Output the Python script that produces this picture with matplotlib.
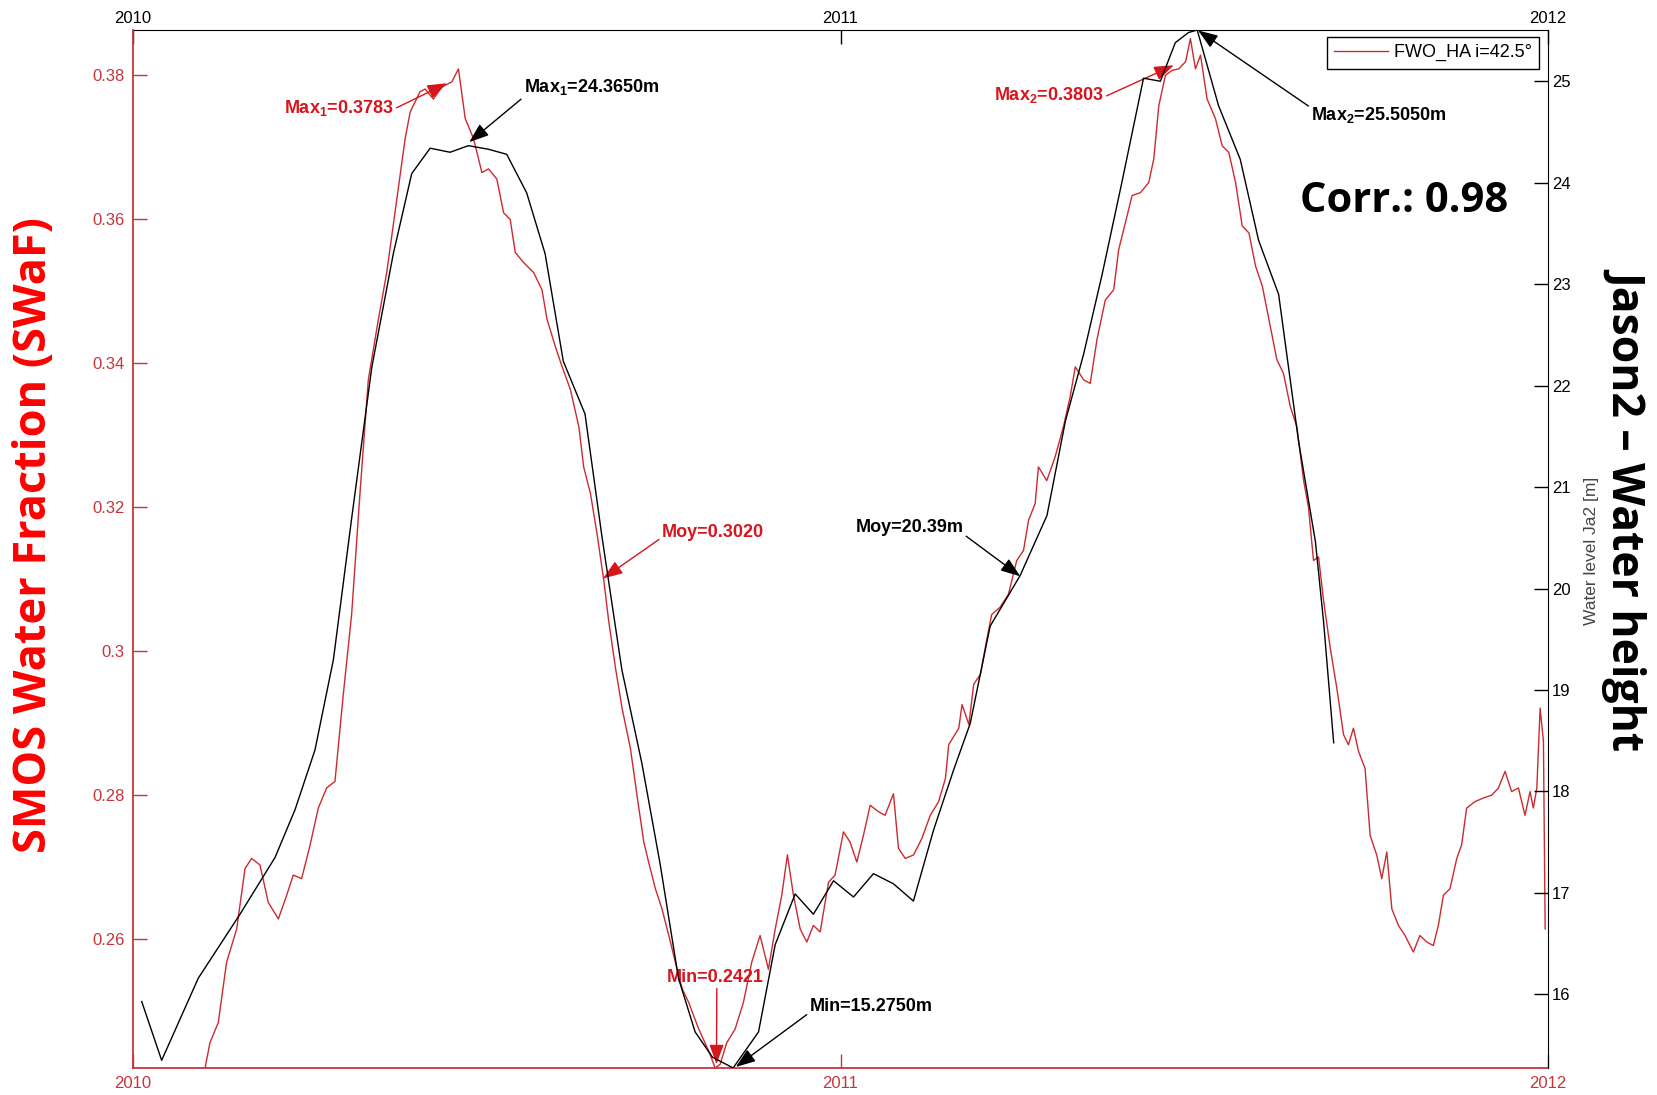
import numpy as np
import matplotlib
matplotlib.use('Agg')
import matplotlib.pyplot as plt
from matplotlib import font_manager as fm

# ---------------- data (days since 2010-01-01) ----------------
jason_day = [4.5, 14.8, 33.7, 55.2, 73.3, 83.6, 93.9, 103.4, 112.8, 123.2, 134.3, 143.8,
             153.3, 163.6, 173.0, 183.3, 192.8, 203.1, 212.6, 222.0, 233.2, 241.8, 252.2,
             262.5, 271.9, 281.4, 290.0, 299.0, 309.6, 322.7, 331.3, 341.6, 351.0, 361.4,
             371.7, 382.0, 392.3, 402.6, 413.0, 423.3, 431.9, 442.2, 457.7, 471.5, 481.0,
             490.4, 500.0, 510.1, 521.3, 530.0, 537.7, 544.5, 549.0, 560.0, 571.2, 580.7,
             591.0, 601.3, 610.0, 614.2, 619.4]
jason_height = [15.93, 15.35, 16.16, 16.79, 17.35, 17.82, 18.41, 19.30, 20.69, 22.18, 23.30,
                24.09, 24.34, 24.30, 24.365, 24.33, 24.28, 23.90, 23.30, 22.24, 21.72, 20.53,
                19.20, 18.28, 17.29, 16.16, 15.63, 15.38, 15.275, 15.63, 16.49, 16.99, 16.79,
                17.12, 16.96, 17.19, 17.09, 16.92, 17.62, 18.21, 18.67, 19.63, 20.13, 20.72,
                21.65, 22.31, 23.10, 24.00, 25.03, 25.00, 25.38, 25.48, 25.505, 24.76, 24.23,
                23.43, 22.90, 21.45, 20.46, 19.67, 18.48]

smos_day = [37.2, 39.7, 44.0, 48.3, 53.5, 57.8, 61.2, 65.5, 69.8, 75.0, 79.3, 82.7, 87.0,
            91.3, 95.6, 99.9, 104.2, 108.5, 112.8, 117.1, 121.4, 126.6, 130.9, 136.1, 140.4,
            143.0, 148.0, 150.7, 155.0, 159.3, 164.5, 167.9, 171.4, 175.7, 180.0, 183.4,
            187.7, 191.2, 194.6, 197.2, 201.5, 206.7, 211.0, 213.6, 217.9, 221.4, 225.7,
            230.0, 232.5, 236.0, 239.4, 242.9, 245.4, 248.9, 252.3, 256.6, 260.0, 263.5,
            266.0, 269.5, 272.9, 276.4, 279.8, 283.3, 286.7, 289.3, 291.9, 297.7, 300.3,
            302.9, 306.3, 310.6, 314.9, 319.2, 323.5, 327.8, 331.3, 334.7, 337.6, 340.7,
            344.2, 347.6, 351.0, 354.5, 358.8, 362.2, 366.5, 369.9, 373.4, 376.8, 380.3,
            384.6, 388.0, 392.3, 394.9, 398.4, 402.7, 407.0, 411.3, 415.6, 419.1, 420.8,
            426.0, 427.7, 431.2, 433.7, 437.2, 440.0, 443.0, 447.3, 451.6, 455.9, 459.4,
            462.0, 465.4, 467.1, 471.4, 475.7, 480.0, 483.5, 486.1, 490.4, 493.8, 497.3,
            501.6, 505.9, 508.5, 511.1, 515.4, 519.7, 524.0, 526.6, 529.2, 532.6, 536.1,
            539.5, 543.0, 545.5, 548.1, 550.7, 554.1, 558.4, 561.9, 565.3, 568.8, 572.2,
            575.7, 579.1, 582.6, 586.0, 590.1, 593.5, 597.0, 600.4, 603.9, 606.4, 609.0,
            611.6, 614.2, 617.6, 621.0, 624.5, 627.0, 629.6, 632.2, 635.6, 638.2, 641.6,
            644.2, 646.8, 649.4, 652.8, 656.2, 660.5, 663.9, 667.4, 670.8, 673.4, 676.0,
            679.4, 682.9, 685.4, 688.0, 692.3, 696.6, 700.9, 704.4, 707.8, 711.2, 714.7,
            718.1, 720.7, 722.4, 724.2, 725.9, 727.6, 728.5]
smos_val = [0.2421, 0.2456, 0.2484, 0.2568, 0.2614, 0.2698, 0.2712, 0.2703, 0.2651, 0.2628,
            0.2661, 0.2689, 0.2684, 0.2730, 0.2782, 0.2810, 0.2819, 0.2940, 0.3051, 0.3219,
            0.3377, 0.3461, 0.3526, 0.3628, 0.3712, 0.3749, 0.3777, 0.3781, 0.3767, 0.3784,
            0.3791, 0.3809, 0.3740, 0.3712, 0.3665, 0.3670, 0.3656, 0.3609, 0.3600, 0.3554,
            0.3540, 0.3526, 0.3502, 0.3461, 0.3423, 0.3395, 0.3363, 0.3312, 0.3256, 0.3219,
            0.3163, 0.3098, 0.3042, 0.2977, 0.2921, 0.2865, 0.2800, 0.2735, 0.2707, 0.2670,
            0.2642, 0.2605, 0.2568, 0.2531, 0.2512, 0.2493, 0.2475, 0.2440, 0.2421, 0.2426,
            0.2456, 0.2475, 0.2512, 0.2568, 0.2605, 0.2558, 0.2614, 0.2661, 0.2717, 0.2661,
            0.2614, 0.2596, 0.2619, 0.2610, 0.2679, 0.2689, 0.2749, 0.2735, 0.2707, 0.2744,
            0.2786, 0.2777, 0.2772, 0.2802, 0.2726, 0.2712, 0.2717, 0.2740, 0.2772, 0.2791,
            0.2823, 0.2870, 0.2893, 0.2926, 0.2898, 0.2954, 0.2968, 0.3010, 0.3051, 0.3061,
            0.3079, 0.3126, 0.3140, 0.3182, 0.3205, 0.3256, 0.3237, 0.3270, 0.3312, 0.3354,
            0.3395, 0.3377, 0.3372, 0.3433, 0.3488, 0.3502, 0.3558, 0.3586, 0.3633, 0.3637,
            0.3651, 0.3684, 0.3758, 0.3800, 0.3807, 0.3809, 0.3819, 0.3851, 0.3809, 0.3828,
            0.3767, 0.3740, 0.3702, 0.3693, 0.3651, 0.3591, 0.3581, 0.3535, 0.3507, 0.3461,
            0.3405, 0.3386, 0.3340, 0.3312, 0.3237, 0.3200, 0.3126, 0.3131, 0.3070, 0.3005,
            0.2949, 0.2884, 0.2870, 0.2893, 0.2861, 0.2837, 0.2744, 0.2717, 0.2684, 0.2721,
            0.2642, 0.2619, 0.2605, 0.2582, 0.2605, 0.2596, 0.2591, 0.2619, 0.2661, 0.2670,
            0.2712, 0.2731, 0.2782, 0.2791, 0.2796, 0.2800, 0.2810, 0.2833, 0.2805, 0.2810,
            0.2772, 0.2805, 0.2782, 0.2810, 0.2921, 0.2875, 0.2614]

year_pos = [0, 365, 730]
year_labels = ['2010', '2011', '2012']
left_ticks = [0.26, 0.28, 0.30, 0.32, 0.34, 0.36, 0.38]
left_ticklabels = ['0.26', '0.28', '0.3', '0.32', '0.34', '0.36', '0.38']
right_ticks = [16, 17, 18, 19, 20, 21, 22, 23, 24, 25]
legend_label = 'FWO_HA i=42.5°'

# ---------------- fonts ----------------
avail = {f.name for f in fm.fontManager.ttflist}
def pick(names):
    for n in names:
        if n in avail:
            return n
    return 'DejaVu Sans'
SANS = pick(['Liberation Sans', 'DejaVu Sans'])
BIG = pick(['Open Sans', 'Noto Sans', 'Lato', 'DejaVu Sans'])
plt.rcParams['font.family'] = [SANS, 'DejaVu Sans']
plt.rcParams['mathtext.default'] = 'regular'

RED_LINE = '#cc2a2e'
RED_AX = '#c8343c'
RED_TXT = '#d8141c'

fig = plt.figure(figsize=(16.58, 10.95), dpi=100)
ax = fig.add_axes([0.0802, 0.0247, 0.8535, 0.9479])
ax2 = ax.twinx()

l1, = ax.plot(smos_day, smos_val, color=RED_LINE, lw=1.0, label=legend_label)
ax2.plot(jason_day, jason_height, color='k', lw=1.0)

ax.set_xlim(0, 730)
ax.set_ylim(0.2421, 0.3863)
ax2.set_ylim(15.275, 25.505)

ax.set_xticks(year_pos)
ax.set_xticklabels(year_labels)
ax.set_yticks(left_ticks)
ax.set_yticklabels(left_ticklabels)
ax2.set_yticks(right_ticks)
ax2.set_yticklabels([str(t) for t in right_ticks])

ax.tick_params(axis='y', direction='in', length=10, width=1, colors=RED_AX,
               labelsize=12, pad=6)
ax.tick_params(axis='x', direction='in', length=10, width=1, colors=RED_AX,
               labelsize=12, pad=6, top=False)
ax2.tick_params(axis='y', direction='in', length=10, width=1, colors='k',
                labelsize=12, pad=3)

sec = ax.secondary_xaxis('top')
sec.set_xticks(year_pos)
sec.set_xticklabels(year_labels)
sec.tick_params(direction='in', length=10, width=1, colors='k', labelsize=12, pad=3)
sec.spines['top'].set_color('k')

ax.spines['left'].set_color(RED_AX)
ax.spines['bottom'].set_color(RED_AX)
ax.spines['left'].set_linewidth(1.3)
ax.spines['bottom'].set_linewidth(1.3)
ax.spines['top'].set_visible(False)
ax.spines['right'].set_visible(False)
for s in ['left', 'bottom', 'top']:
    ax2.spines[s].set_visible(False)
ax2.spines['right'].set_color('k')

# ---------------- annotations ----------------
AFONT = dict(fontsize=13, fontweight='bold', family=[SANS, 'DejaVu Sans'])
def arrow(color):
    return dict(arrowstyle='-|>,head_length=0.6,head_width=0.22', mutation_scale=20,
                color=color, lw=1.0, shrinkA=0, shrinkB=0)

ax.annotate('Max$_1$=0.3783', xy=(162, 0.3789), xytext=(134.5, 0.37544),
            ha='right', va='center', color=RED_TXT, **AFONT,
            arrowprops=dict(arrow(RED_TXT), relpos=(1, 0.45)))
ax.annotate('Moy=0.3020', xy=(242.5, 0.3101), xytext=(272.8, 0.3165),
            ha='left', va='center', color=RED_TXT, **AFONT,
            arrowprops=dict(arrow(RED_TXT), relpos=(0, 0.2)))
ax.annotate('Max$_2$=0.3803', xy=(536.9, 0.3814), xytext=(500.8, 0.37725),
            ha='right', va='center', color=RED_TXT, **AFONT,
            arrowprops=dict(arrow(RED_TXT), relpos=(1, 0.4)))
ax.annotate('Min=0.2421', xy=(301, 0.24262), xytext=(300.2, 0.25472),
            ha='center', va='center', color=RED_TXT, **AFONT,
            arrowprops=dict(arrow(RED_TXT), relpos=(0.52, 0.1)))

ax2.annotate('Max$_1$=24.3650m', xy=(173.5, 24.40), xytext=(201.6, 24.944),
             ha='left', va='center', color='k', **AFONT,
             arrowprops=dict(arrow('k'), relpos=(0, 0.0)))
ax2.annotate('Moy=20.39m', xy=(457.7, 20.121), xytext=(428.4, 20.603),
             ha='right', va='center', color='k', **AFONT,
             arrowprops=dict(arrow('k'), relpos=(1, 0.1)))
ax2.annotate('Max$_2$=25.5050m', xy=(549.5, 25.50), xytext=(607.8, 24.668),
             ha='left', va='center', color='k', **AFONT,
             arrowprops=dict(arrow('k'), relpos=(0, 0.85)))
ax2.annotate('Min=15.2750m', xy=(311, 15.285), xytext=(349, 15.879),
             ha='left', va='center', color='k', **AFONT,
             arrowprops=dict(arrow('k'), relpos=(0, 0.15)))

# ---------------- legend ----------------
leg = ax2.legend([l1], [legend_label], loc='upper right',
                 bbox_to_anchor=(1 - 9 / 1415, 1 - 7 / 1038), borderaxespad=0,
                 fancybox=False, framealpha=1, edgecolor='k', fontsize=13,
                 handlelength=3.0, handletextpad=0.3, borderpad=0.4)
leg.get_frame().set_linewidth(1.0)

# ---------------- big labels ----------------
fig.text(0.8466, 0.8164, 'Corr.: 0.98', ha='center', va='center', fontsize=30,
         fontweight='bold', family=[BIG, 'DejaVu Sans'], color='k')
fig.text(0.0211, 0.5114, 'SMOS Water Fraction (SWaF)', ha='center', va='center',
         rotation=90, fontsize=32.5, fontweight='bold', family=[BIG, 'DejaVu Sans'],
         color='#ff0000')
fig.text(0.9813, 0.5361, 'Jason2 – Water height', ha='center', va='center',
         rotation=270, fontsize=32, fontweight='bold', family=[BIG, 'DejaVu Sans'],
         color='k')
fig.text(0.9596, 0.4968, 'Water level Ja2 [m]', ha='center', va='center',
         rotation=90, fontsize=12.5, color='#444444')

fig.savefig('out.png', dpi=100)
